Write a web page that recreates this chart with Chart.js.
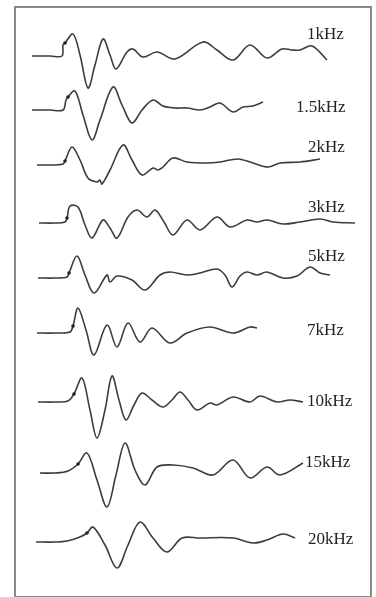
<!DOCTYPE html>
<html>
<head>
<meta charset="utf-8">
<script src="https://cdn.jsdelivr.net/npm/chart.js@4/dist/chart.umd.min.js"></script>
<style>
  html, body { margin: 0; padding: 0; background: #fff; }
  #wrap { position: relative; width: 376px; height: 597px; overflow: hidden; }
  #frame { position: absolute; left: 14px; top: 6px; width: 354px; height: 588px;
           border: 2px solid #8a8a8a; box-sizing: content-box; }
  canvas { position: absolute; left: 0; top: 0; }
</style>
</head>
<body>
<div id="wrap">
  <div id="frame"></div>
  <canvas id="c" width="376" height="597"></canvas>
</div>
<script>
// ---- Data (time in arbitrary units, amplitude relative to each trace's baseline) ----
const labels = ["1kHz", "1.5kHz", "2kHz", "3kHz", "5kHz", "7kHz", "10kHz", "15kHz", "20kHz"];

const t1k   = [32,50,62,63,65,73,80,88,95,103,110,116,127,133,143,157,175,203,217,233,250,267,282,292,300,312,327];
const a1k   = [0,0,0,11,13,22,1,-32,-9,17,1,-13,4,7,-1,4,-3,14,6,-4,11,-2,7,6,6,10,-4];

const t1_5k = [32,50,63,66,68,75,83,92,100,113,122,132,142,153,163,175,187,200,210,220,233,243,253,263];
const a1_5k = [0,0,0,10,13,19,-5,-30,-10,23,5,-13,0,10,4,2,2,0,3,7,-2,3,4,8];

const t2k   = [37,50,63,65,72,80,88,97,100,102,110,123,132,142,153,158,163,173,187,207,220,238,253,268,280,300,320];
const a2k   = [0,0,1,4,18,5,-13,-17,-15,-19,-5,20,5,-10,-3,-5,-2,7,3,2,3,6,2,-2,2,3,6];

const t3k   = [39,55,65,67,70,78,85,92,103,110,117,128,137,147,155,164,173,187,200,217,230,247,257,267,283,300,320,333,355];
const a3k   = [0,0,1,5,17,16,-2,-15,3,-5,-15,6,13,6,13,1,-12,3,-7,6,-4,3,1,3,-1,1,4,1,0];

const t5k   = [38,55,67,69,77,85,94,107,110,117,132,145,160,170,187,200,217,225,232,240,247,257,267,283,297,310,320,330];
const a5k   = [0,0,1,5,22,3,-15,3,-4,2,-2,-12,3,6,3,5,9,3,-9,2,6,3,6,0,2,11,5,3];

const t7k   = [37,55,70,73,78,86,94,107,117,128,140,152,170,187,210,233,250,257];
const a7k   = [0,0,1,7,25,3,-22,8,-14,10,-9,5,-10,0,6,0,6,5];

const t10k  = [38,55,68,74,82,90,97,105,112,119,126,134,142,152,163,172,180,188,197,210,217,233,250,260,277,290,303];
const a10k  = [0,0,1,8,24,-8,-36,-8,26,2,-18,-3,9,2,-5,2,10,2,-8,-1,-3,5,0,6,0,2,0];

const t15k  = [40,55,68,78,87,97,107,116,125,135,145,157,173,193,213,233,250,267,280,303];
const a15k  = [0,0,2,9,20,-7,-34,-2,30,3,-12,6,8,5,-2,13,-5,6,-2,10];

const t20k  = [36,55,67,80,87,93,105,117,128,140,153,167,182,200,233,253,267,283,295];
const a20k  = [0,0,1,5,9,15,-3,-26,-3,20,4,-10,4,4,4,-1,2,8,4];

// index of the onset marker in each trace
const markerIndex = [4,4,3,3,3,3,3,3,4];

// ---- Layout (vertical baseline of each trace, label anchor) ----
const baselines = [56,110,165,223,278,333,402,473,542];
const labelX    = [307,296,308,308,308,307,307,305,308];
const labelDy   = [21,2,17,15,21,2,0,10,2];

const times = [t1k,t1_5k,t2k,t3k,t5k,t7k,t10k,t15k,t20k];
const amps  = [a1k,a1_5k,a2k,a3k,a5k,a7k,a10k,a15k,a20k];

const datasets = labels.map((name, k) => ({
  label: name,
  data: times[k].map((t, i) => ({ x: t, y: amps[k][i] - baselines[k] })),
  borderColor: '#3c3c3c',
  borderWidth: 1.6,
  tension: 0.35,
  fill: false,
  pointRadius: times[k].map((_, i) => i === markerIndex[k] ? 1.8 : 0),
  pointBackgroundColor: '#222',
  pointBorderWidth: 0
}));

const labelPlugin = {
  id: 'traceLabels',
  afterDatasetsDraw(chart) {
    const { ctx, scales } = chart;
    ctx.save();
    ctx.fillStyle = '#222';
    ctx.font = '17px "Liberation Serif", "DejaVu Serif", serif';
    ctx.textBaseline = 'middle';
    ctx.textAlign = 'left';
    labels.forEach((name, k) => {
      const px = scales.x.getPixelForValue(labelX[k]);
      const py = scales.y.getPixelForValue(labelDy[k] - baselines[k]);
      ctx.fillText(name, px, py);
    });
    ctx.restore();
  }
};

new Chart(document.getElementById('c'), {
  type: 'line',
  data: { datasets },
  options: {
    responsive: false,
    animation: false,
    layout: { padding: 0 },
    plugins: { legend: { display: false }, tooltip: { enabled: false } },
    scales: {
      x: { type: 'linear', min: 0, max: 376, display: false },
      y: { type: 'linear', min: -597, max: 0, display: false }
    }
  },
  plugins: [labelPlugin]
});
</script>
</body>
</html>
